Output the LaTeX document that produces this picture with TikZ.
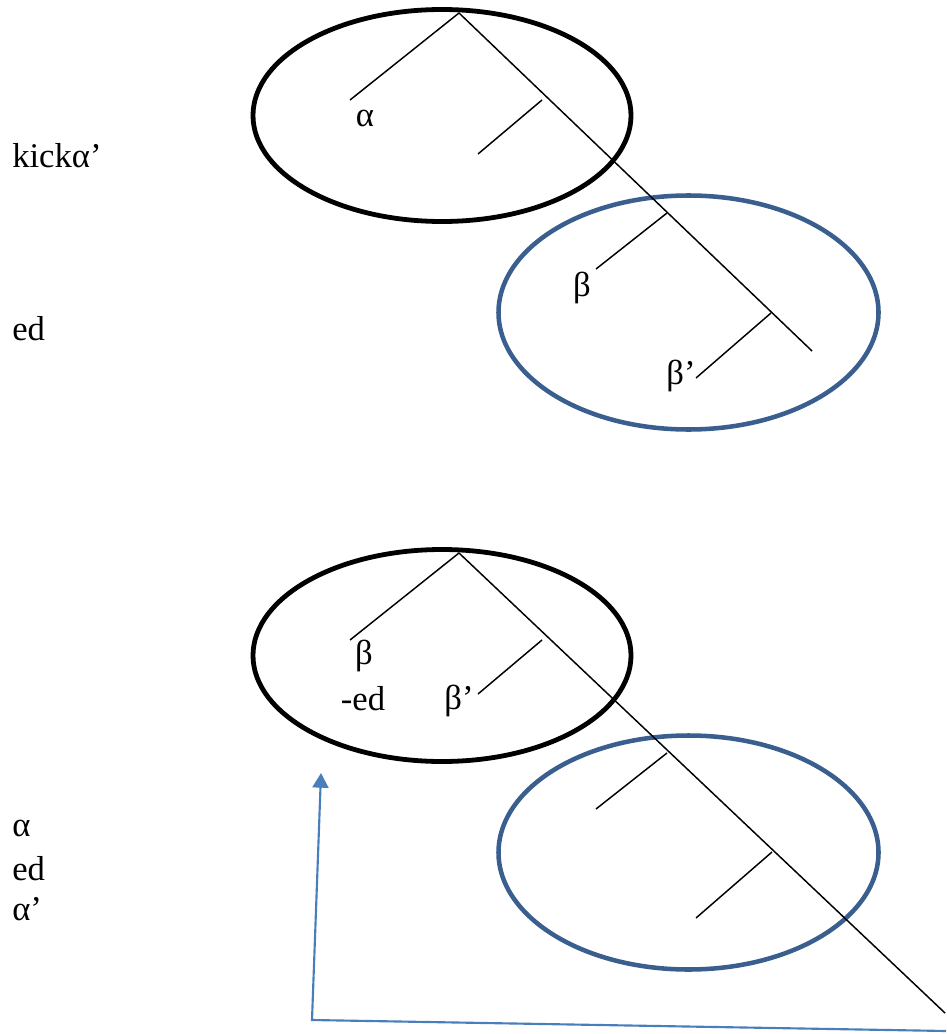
\documentclass[tikz,border=0pt]{standalone}
\usepackage{fontspec}
\setmainfont{Liberation Serif}
\usetikzlibrary{arrows.meta}
\definecolor{ringblue}{HTML}{3A5F8F}
\definecolor{arrowblue}{HTML}{4A7EBB}
\tikzset{
  treeline/.style={line width=1.1pt, black},
  blackring/.style={line width=3.6pt, black},
  bluering/.style={line width=3.4pt, ringblue},
  lbl/.style={inner sep=0pt, anchor=base, font=\fontsize{26}{30}\selectfont},
  sidelbl/.style={inner sep=0pt, anchor=base west, font=\fontsize{26}{30}\selectfont},
  movearrow/.style={line width=1.6pt, arrowblue, -{Triangle[width=12pt,length=11pt]}}
}
\begin{document}
\begin{tikzpicture}[x=0.75pt,y=-0.75pt]
\useasboundingbox (0,0) rectangle (946,1034);
\fill[white] (0,0) rectangle (946,1034);

% ---------- top diagram ----------
\draw[blackring] (442,115.5) ellipse [x radius=189, y radius=106];
\draw[bluering] (688.5,312.5) ellipse [x radius=190, y radius=117];
\coordinate (tA) at (459,13);
\coordinate (tL) at (350,100);
\coordinate (tB) at (542,100);
\coordinate (tBl) at (478,154);
\coordinate (tC) at (667,213);
\coordinate (tCl) at (596,269);
\coordinate (tD) at (771,313);
\coordinate (tDl) at (696,378);
\coordinate (tE) at (812,351);
\draw[treeline] (tA) -- (tL);
\draw[treeline] (tA) -- (tE);
\draw[treeline] (tB) -- (tBl);
\draw[treeline] (tC) -- (tCl);
\draw[treeline] (tD) -- (tDl);
\node[lbl] (la) at (365,127) {α};
\node[lbl] (lb) at (582,296) {β};
\node[lbl] (lbp) at (681,384) {β’};
\node[sidelbl] (kick) at (12,168) {kickα’};
\node[sidelbl] (ed1) at (12,340) {ed};

% ---------- bottom diagram ----------
\draw[blackring] (442,655.5) ellipse [x radius=189, y radius=106];
\draw[bluering] (688.5,852.5) ellipse [x radius=190, y radius=117];
\coordinate (bA) at (459,553);
\coordinate (bL) at (350,640);
\coordinate (bB) at (542,640);
\coordinate (bBl) at (478,694);
\coordinate (bC) at (667,753);
\coordinate (bCl) at (596,809);
\coordinate (bD) at (772,852);
\coordinate (bDl) at (696,918);
\coordinate (bE) at (945,1013);
\draw[treeline] (bA) -- (bL);
\draw[treeline] (bA) -- (bE);
\draw[treeline] (bB) -- (bBl);
\draw[treeline] (bC) -- (bCl);
\draw[treeline] (bD) -- (bDl);
\node[lbl] (lb2) at (364,664) {β};
\node[lbl] (led) at (363,710) {-ed};
\node[lbl] (lbp2) at (459,709) {β’};
\node[sidelbl] (al) at (12,836) {α};
\node[sidelbl] (ed2) at (12,880) {ed};
\node[sidelbl] (alp) at (12,920) {α’};

% ---------- movement arrow ----------
\coordinate (mStart) at (946,1031);
\coordinate (mCorner) at (312,1020);
\coordinate (mEnd) at (321,773);
\draw[movearrow] (mStart) -- (mCorner) -- (mEnd);
\end{tikzpicture}
\end{document}
